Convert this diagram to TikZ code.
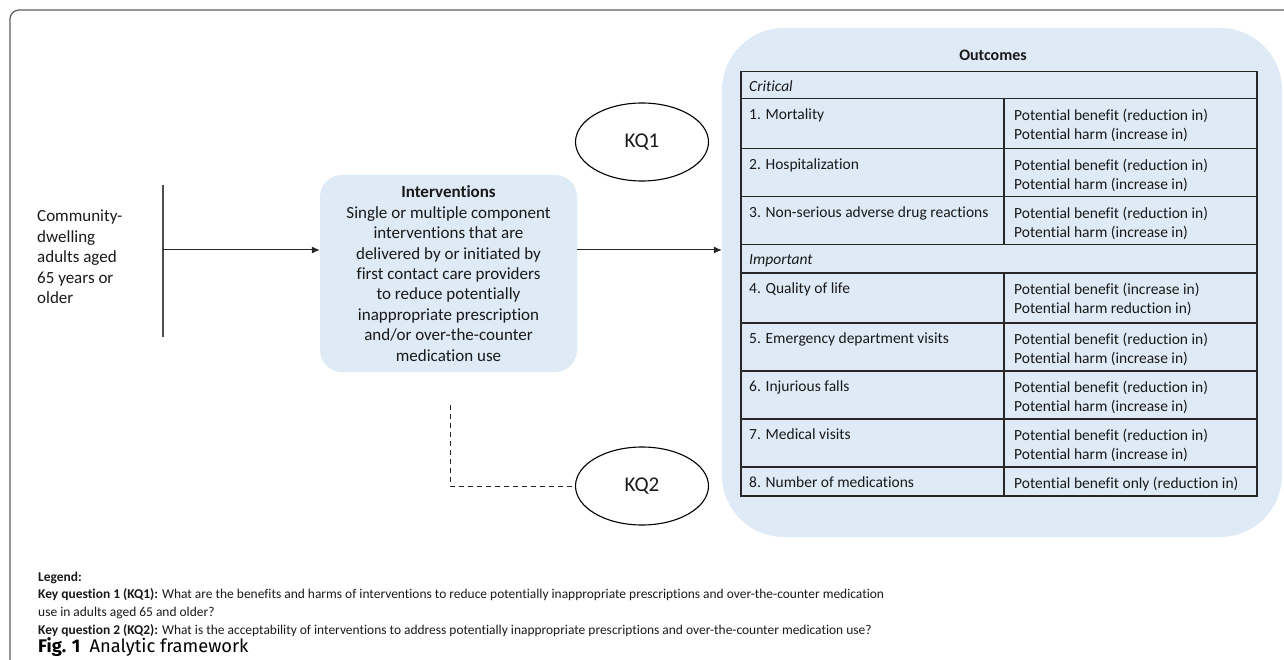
\documentclass[tikz,border=0pt]{standalone}
\usepackage{fontspec}
\setmainfont[Ligatures=NoCommon]{Carlito}
\newfontfamily\capfont{Fira Sans}
\usetikzlibrary{shapes.geometric,arrows.meta}
\definecolor{blobblue}{RGB}{222,234,246}
\definecolor{framegray}{RGB}{95,95,95}
\definecolor{tableline}{RGB}{40,40,40}
\definecolor{inkgray}{RGB}{25,25,25}
\begin{document}
\begin{tikzpicture}[x=1pt,y=-1pt,
  every node/.style={text=inkgray},
  poptext/.style={font=\fontsize{17}{20.5}\selectfont, align=left, inner sep=0pt},
  intbox/.style={fill=blobblue, rounded corners=22pt, minimum width=257pt, minimum height=197pt,
     align=center, font=\fontsize{17}{20.4}\selectfont, inner sep=0pt},
  blob/.style={fill=blobblue, rounded corners=62pt, minimum width=560pt, minimum height=509pt, inner sep=0pt},
  kq/.style={ellipse, draw=black, line width=1.1pt, minimum width=133pt, minimum height=78pt,
     font=\fontsize{21}{24}\selectfont, inner sep=0pt},
  arrowline/.style={draw=black!85, line width=1pt, -{Latex[length=8pt,width=7pt]}},
  dashline/.style={draw=black!85, line width=1pt, dash pattern=on 5pt off 4pt},
  cell/.style={draw=tableline, line width=1.5pt, anchor=north west, inner sep=0pt},
  celltext/.style={anchor=north west, inner sep=0pt, align=left, font=\fontsize{15.5}{19}\selectfont},
  legendtext/.style={anchor=base west, inner sep=0pt, font=\fontsize{13.45}{16}\selectfont}
]
\useasboundingbox (0,0) rectangle (1284,660);
% frame
\begin{scope}
  \clip (0,0) rectangle (1284,660);
  \draw[framegray, line width=1.3pt, rounded corners=9pt] (10,10) rectangle (1330,700);
\end{scope}

% population
\node[poptext, anchor=west] (pop) at (37,257) {Community-\\dwelling\\adults aged\\65 years or\\older};
\coordinate (bartop) at (163,185);
\coordinate (barbot) at (163,337);
\coordinate (barmid) at (163,250);
\draw[black!70, line width=1.1pt] (bartop) -- (barbot);

% interventions
\node[intbox] (intv) at (448.5,273.5) {\textbf{Interventions}\\Single or multiple component\\interventions that are\\delivered by or initiated by\\first contact care providers\\to reduce potentially\\inappropriate prescription\\and/or over-the-counter\\medication use};
\draw[arrowline] (barmid) -- (barmid -| intv.west);

% outcomes blob
\node[blob] (outc) at (1002,282.5) {};
\node[font=\fontsize{16}{19}\selectfont\bfseries, inner sep=0pt] (outt) at (993,55) {Outcomes};
\draw[arrowline] (intv.east |- barmid) -- (barmid -| outc.west);

% key questions
\node[kq] (kq1) at (642,142) {KQ1};
\node[kq] (kq2) at (642,486) {KQ2};
\coordinate (dstart) at (450,405);
\draw[dashline] (dstart) |- (kq2.west);

% table
\node[cell, minimum width=516pt, minimum height=27pt] (crit) at (740,71) {};
\node[celltext, font=\fontsize{15.5}{19}\selectfont\itshape] at ([xshift=9pt,yshift=-10pt]crit.north west) {Critical};

\node[cell, minimum width=263pt, minimum height=50pt] (r1a) at (740,98) {};
\node[cell, minimum width=253pt, minimum height=50pt] (r1b) at (1003,98) {};
\node[cell, minimum width=263pt, minimum height=48pt] (r2a) at (740,148) {};
\node[cell, minimum width=253pt, minimum height=48pt] (r2b) at (1003,148) {};
\node[cell, minimum width=263pt, minimum height=48pt] (r3a) at (740,196) {};
\node[cell, minimum width=253pt, minimum height=48pt] (r3b) at (1003,196) {};
\node[cell, minimum width=516pt, minimum height=28pt] (imp) at (740,244) {};
\node[celltext, font=\fontsize{15.5}{19}\selectfont\itshape] at ([xshift=9pt,yshift=-10pt]imp.north west) {Important};
\node[cell, minimum width=263pt, minimum height=50pt] (r4a) at (740,272) {};
\node[cell, minimum width=253pt, minimum height=50pt] (r4b) at (1003,272) {};
\node[cell, minimum width=263pt, minimum height=48pt] (r5a) at (740,322) {};
\node[cell, minimum width=253pt, minimum height=48pt] (r5b) at (1003,322) {};
\node[cell, minimum width=263pt, minimum height=48pt] (r6a) at (740,370) {};
\node[cell, minimum width=253pt, minimum height=48pt] (r6b) at (1003,370) {};
\node[cell, minimum width=263pt, minimum height=48pt] (r7a) at (740,418) {};
\node[cell, minimum width=253pt, minimum height=48pt] (r7b) at (1003,418) {};
\node[cell, minimum width=263pt, minimum height=29pt] (r8a) at (740,466) {};
\node[cell, minimum width=253pt, minimum height=29pt] (r8b) at (1003,466) {};

\foreach \r/\t in {r1a/{1. Mortality}, r2a/{2. Hospitalization}, r3a/{3. Non-serious adverse drug reactions},
  r4a/{4. Quality of life}, r5a/{5. Emergency department visits}, r6a/{6. Injurious falls},
  r7a/{7. Medical visits}, r8a/{8. Number of medications}}
  \node[celltext] at ([xshift=9pt,yshift=-11pt]\r.north west) {\t};
\foreach \r/\t in {r1b/{Potential benefit (reduction in)\\Potential harm (increase in)},
  r2b/{Potential benefit (reduction in)\\Potential harm (increase in)},
  r3b/{Potential benefit (reduction in)\\Potential harm (increase in)},
  r4b/{Potential benefit (increase in)\\Potential harm reduction in)},
  r5b/{Potential benefit (reduction in)\\Potential harm (increase in)},
  r6b/{Potential benefit (reduction in)\\Potential harm (increase in)},
  r7b/{Potential benefit (reduction in)\\Potential harm (increase in)},
  r8b/{Potential benefit only (reduction in)}}
  \node[celltext] at ([xshift=11pt,yshift=-11pt]\r.north west) {\t};

% legend
\node[legendtext] (leg0) at (38,581) {\textbf{Legend:}};
\node[legendtext] (leg1) at (38,598) {\textbf{Key question 1 (KQ1):} What are the benefits and harms of interventions to reduce potentially inappropriate prescriptions and over-the-counter medication};
\node[legendtext] (leg2) at (38,616) {use in adults aged 65 and older?};
\node[legendtext] (leg3) at (38,634) {\textbf{Key question 2 (KQ2):} What is the acceptability of interventions to address potentially inappropriate prescriptions and over-the-counter medication use?};

% caption
\node[anchor=base west, inner sep=0pt, font=\capfont\fontsize{18.3}{21}\selectfont, text=black] (cap) at (38,652) {\textbf{Fig. 1}\hspace{0.5em}Analytic framework};
\end{tikzpicture}
\end{document}
